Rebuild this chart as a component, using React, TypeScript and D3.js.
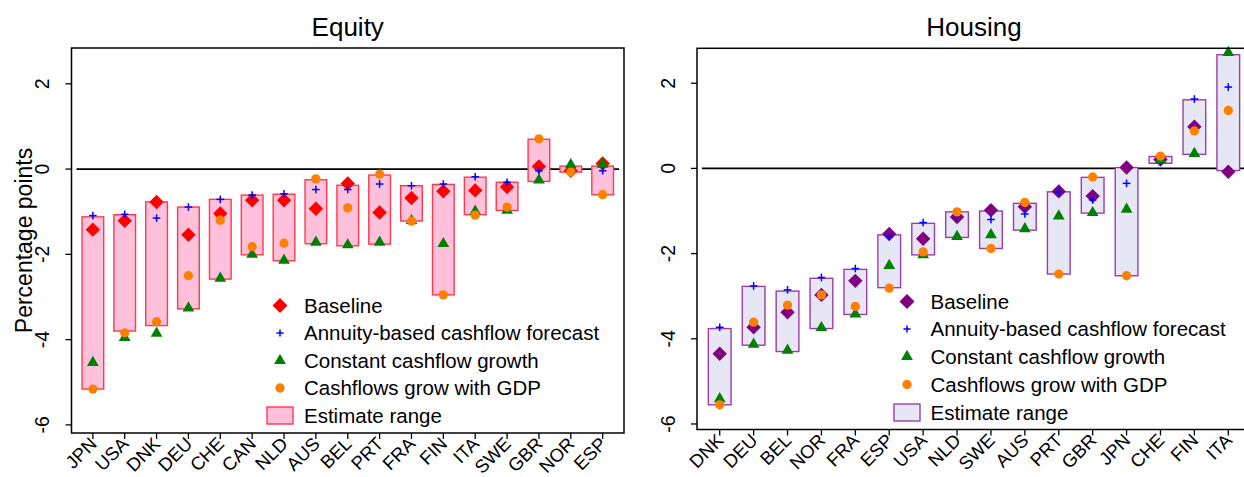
import React from "react";
import * as d3 from "d3";

const eqCats = ["JPN","USA","DNK","DEU","CHE","CAN","NLD","AUS","BEL","PRT","FRA","FIN","ITA","SWE","GBR","NOR","ESP"];
const eqBaseline = [-1.42,-1.21,-0.77,-1.54,-1.04,-0.73,-0.73,-0.93,-0.34,-1.02,-0.68,-0.52,-0.50,-0.42,0.06,-0.04,0.13];
const eqAnnuity = [-1.09,-1.06,-1.15,-0.89,-0.71,-0.61,-0.58,-0.48,-0.48,-0.35,-0.39,-0.35,-0.18,-0.31,-0.04,-0.02,-0.04];
const eqConstant = [-4.54,-3.95,-3.85,-3.26,-2.56,-2.00,-2.14,-1.72,-1.78,-1.72,-1.21,-1.75,-0.99,-0.97,-0.26,0.10,0.11];
const eqGdp = [-5.16,-3.84,-3.58,-2.50,-1.20,-1.82,-1.74,-0.23,-0.91,-0.12,-1.22,-2.95,-1.08,-0.89,0.71,-0.07,-0.60];
const eqLo = [-5.16,-3.80,-3.67,-3.28,-2.58,-2.01,-2.15,-1.75,-1.80,-1.76,-1.22,-2.95,-1.07,-0.97,-0.29,-0.07,-0.60];
const eqHi = [-1.12,-1.07,-0.77,-0.89,-0.71,-0.61,-0.59,-0.25,-0.38,-0.14,-0.39,-0.36,-0.19,-0.31,0.70,0.07,0.07];

const hCats = ["DNK","DEU","BEL","NOR","FRA","ESP","USA","NLD","SWE","AUS","PRT","GBR","JPN","CHE","FIN","ITA"];
const hBaseline = [-4.35,-3.73,-3.38,-2.97,-2.64,-1.54,-1.65,-1.14,-0.98,-0.90,-0.54,-0.65,0.02,0.21,0.98,-0.08];
const hAnnuity = [-3.73,-2.76,-2.85,-2.56,-2.35,-1.60,-1.27,-1.10,-1.20,-1.07,-0.55,-0.74,-0.35,0.16,1.63,1.91];
const hConstant = [-5.41,-4.13,-4.27,-3.74,-3.42,-2.28,-2.03,-1.60,-1.56,-1.42,-1.12,-1.04,-0.96,0.20,0.35,2.72];
const hGdp = [-5.55,-3.61,-3.21,-2.97,-3.24,-2.81,-1.96,-1.02,-1.88,-0.80,-2.48,-0.20,-2.52,0.29,0.88,1.36];
const hLo = [-5.55,-4.15,-4.30,-3.76,-3.43,-2.80,-2.03,-1.62,-1.88,-1.45,-2.48,-1.05,-2.52,0.12,0.33,-0.05];
const hHi = [-3.76,-2.77,-2.88,-2.58,-2.37,-1.56,-1.29,-1.02,-1.00,-0.82,-0.55,-0.21,0.02,0.28,1.61,2.67];

const yTicks = [-6, -4, -2, 0, 2];
const legendLabels = [
  "Baseline",
  "Annuity-based cashflow forecast",
  "Constant cashflow growth",
  "Cashflows grow with GDP",
  "Estimate range",
];

const FONT = "'Liberation Sans', Arial, Helvetica, sans-serif";

const diamondPath = d3.symbol().type(d3.symbolSquare).size(104)() as string;
const diamondLegendPath = d3.symbol().type(d3.symbolSquare).size(112)() as string;
const trianglePath = d3.symbol().type(d3.symbolTriangle).size(60)() as string;
const circlePath = d3.symbol().type(d3.symbolCircle).size(68)() as string;

function Plus({ x, y, r = 3.8 }: { x: number; y: number; r?: number }) {
  return (
    <g stroke="#0000ff" strokeWidth={1.5}>
      <line x1={x - r} x2={x + r} y1={y} y2={y} />
      <line x1={x} x2={x} y1={y - r} y2={y + r} />
    </g>
  );
}

type PanelProps = {
  title: string;
  cats: string[];
  baseline: number[];
  annuity: number[];
  constant: number[];
  gdp: number[];
  lo: number[];
  hi: number[];
  left: number;
  right: number;
  top: number;
  bottom: number;
  yMin: number;
  yMax: number;
  boxFill: string;
  boxStroke: string;
  diamondColor: string;
  boxFrac: number;
  legendX: number;
  legendTextX: number;
  legendY: number[];
  showYTitle: boolean;
};

function Panel(p: PanelProps) {
  const x = d3.scalePoint<string>().domain(p.cats).range([p.left, p.right]).padding(0.67);
  const y = d3.scaleLinear().domain([p.yMin, p.yMax]).range([p.bottom, p.top]);
  const bw = x.step() * p.boxFrac;
  return (
    <g fontFamily={FONT}>
      <text x={(p.left + p.right) / 2} y={36} fontSize={26} textAnchor="middle" fill="#000">
        {p.title}
      </text>
      <line x1={p.left + 5} x2={p.right - 5} y1={y(0)} y2={y(0)} stroke="#000" strokeWidth={1.6} />
      {p.cats.map((c, i) => (
        <rect
          key={"b" + c}
          x={(x(c) as number) - bw / 2}
          width={bw}
          y={y(p.hi[i])}
          height={Math.max(1, y(p.lo[i]) - y(p.hi[i]))}
          fill={p.boxFill}
          stroke={p.boxStroke}
          strokeWidth={1.4}
        />
      ))}
      {p.cats.map((c, i) => (
        <path key={"d" + c} d={diamondPath} transform={`translate(${x(c)},${y(p.baseline[i])}) rotate(45)`} fill={p.diamondColor} />
      ))}
      {p.cats.map((c, i) => (
        <Plus key={"p" + c} x={x(c) as number} y={y(p.annuity[i])} />
      ))}
      {p.cats.map((c, i) => (
        <path key={"t" + c} d={trianglePath} transform={`translate(${x(c)},${y(p.constant[i])})`} fill="#008000" />
      ))}
      {p.cats.map((c, i) => (
        <path key={"c" + c} d={circlePath} transform={`translate(${x(c)},${y(p.gdp[i])})`} fill="#ff8000" />
      ))}
      <rect x={p.left} y={p.top} width={p.right - p.left} height={p.bottom - p.top} fill="none" stroke="#000" strokeWidth={1.5} />
      {yTicks.map((t) => (
        <g key={"yt" + t}>
          <line x1={p.left - 6} x2={p.left} y1={y(t)} y2={y(t)} stroke="#000" strokeWidth={1.3} />
          <text
            x={p.left - 22}
            y={y(t)}
            fontSize={19.5}
            textAnchor="middle"
            transform={`rotate(-90, ${p.left - 22}, ${y(t)})`}
            fill="#000"
          >
            {t}
          </text>
        </g>
      ))}
      {p.showYTitle && (
        <text x={32} y={(p.top + p.bottom) / 2} fontSize={23} textAnchor="middle" transform={`rotate(-90, 32, ${(p.top + p.bottom) / 2})`} fill="#000">
          Percentage points
        </text>
      )}
      {p.cats.map((c) => {
        const cx = x(c) as number;
        const ax = cx + 5;
        const ty = p.bottom + 12;
        return (
          <g key={"xt" + c}>
            <line x1={cx} x2={cx} y1={p.bottom} y2={p.bottom + 6} stroke="#000" strokeWidth={1.3} />
            <text x={ax} y={ty} fontSize={18.5} textAnchor="end" transform={`rotate(-45, ${ax}, ${ty})`} fill="#000">
              {c}
            </text>
          </g>
        );
      })}
      <path d={diamondLegendPath} transform={`translate(${p.legendX},${p.legendY[0]}) rotate(45)`} fill={p.diamondColor} />
      <Plus x={p.legendX} y={p.legendY[1]} r={3.6} />
      <path d={trianglePath} transform={`translate(${p.legendX},${p.legendY[2]})`} fill="#008000" />
      <path d={circlePath} transform={`translate(${p.legendX},${p.legendY[3]})`} fill="#ff8000" />
      <rect x={p.legendX - 13} y={p.legendY[4] - 8.5} width={26} height={17} fill={p.boxFill} stroke={p.boxStroke} strokeWidth={1.4} />
      {legendLabels.map((l, i) => (
        <text key={l} x={p.legendTextX} y={p.legendY[i] + 7} fontSize={20.5} fill="#000">
          {l}
        </text>
      ))}
    </g>
  );
}

export default function App() {
  return (
    <svg width={1244} height={477} style={{ position: "absolute", left: 0, top: 0, background: "#fff" }}>
      <rect width={1244} height={477} fill="#fff" />
      <Panel
        title="Equity"
        cats={eqCats}
        baseline={eqBaseline}
        annuity={eqAnnuity}
        constant={eqConstant}
        gdp={eqGdp}
        lo={eqLo}
        hi={eqHi}
        left={71.5}
        right={624}
        top={48}
        bottom={433}
        yMin={-6.19}
        yMax={2.84}
        boxFill="#ffc0dc"
        boxStroke="#ff3a4a"
        diamondColor="#ff0000"
        boxFrac={0.68}
        legendX={280}
        legendTextX={304}
        legendY={[305.5, 333, 360.5, 388, 415.5]}
        showYTitle={true}
      />
      <Panel
        title="Housing"
        cats={hCats}
        baseline={hBaseline}
        annuity={hAnnuity}
        constant={hConstant}
        gdp={hGdp}
        lo={hLo}
        hi={hHi}
        left={697}
        right={1251}
        top={48.3}
        bottom={429.5}
        yMin={-6.13}
        yMax={2.82}
        boxFill="#e6e6f4"
        boxStroke="#9b3fa6"
        diamondColor="#800080"
        boxFrac={0.67}
        legendX={907}
        legendTextX={930.5}
        legendY={[301.5, 329, 356.5, 384.5, 412.5]}
        showYTitle={false}
      />
    </svg>
  );
}
